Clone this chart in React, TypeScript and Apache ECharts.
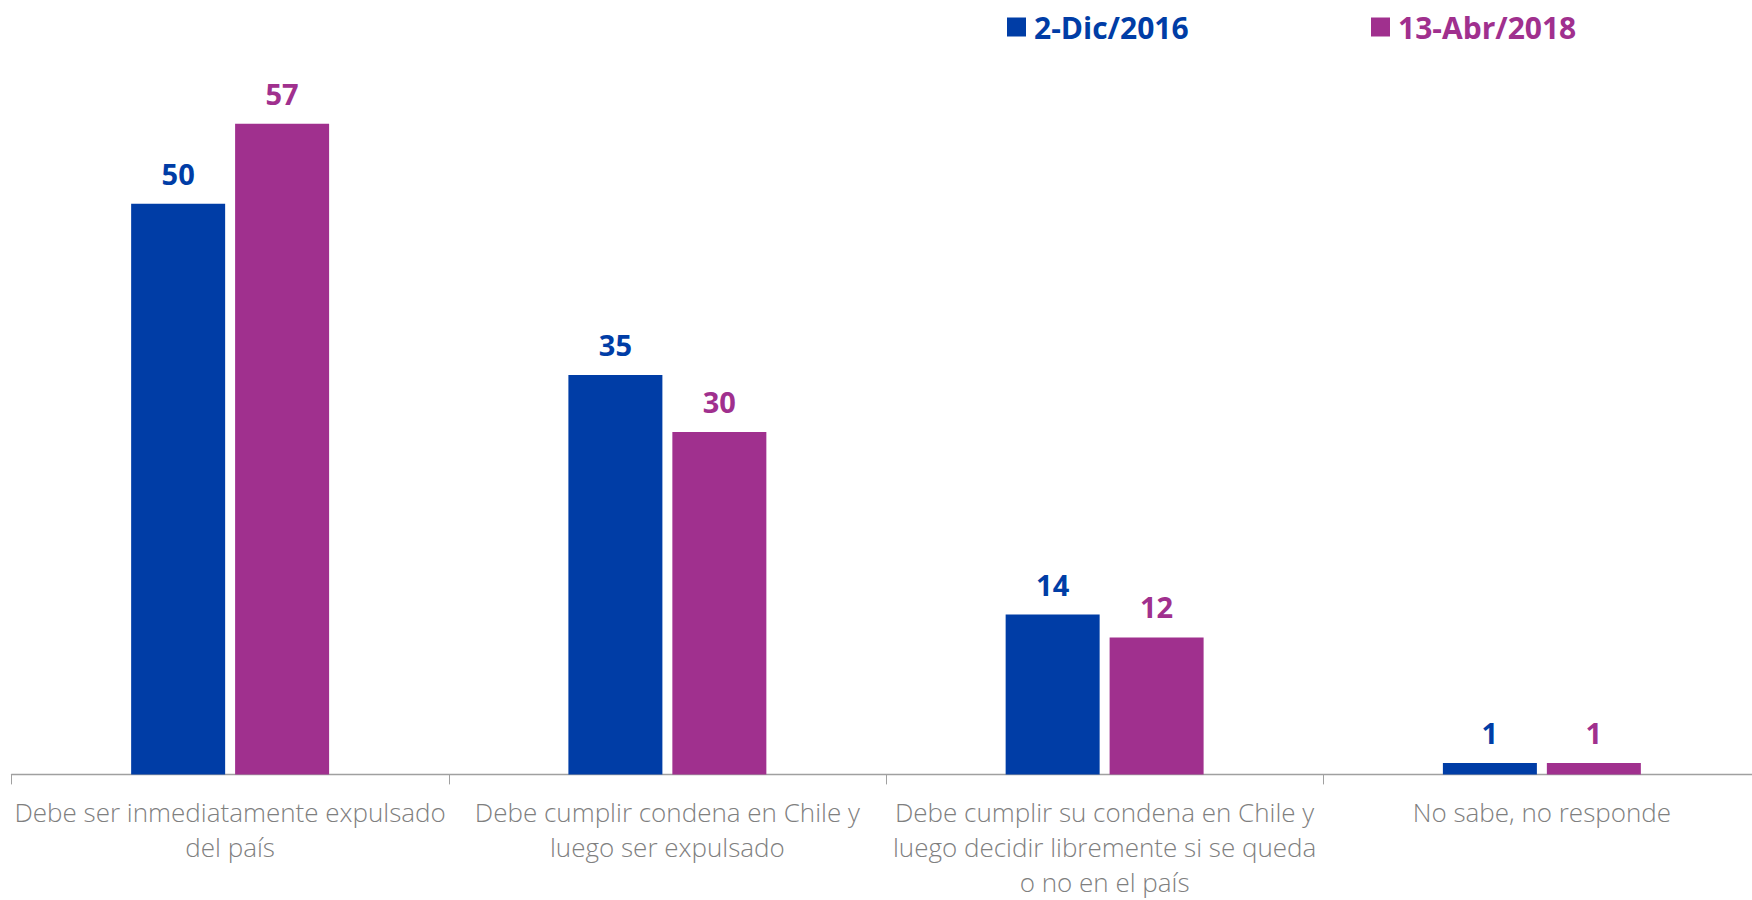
import React, { useEffect, useRef } from "react";
import * as echarts from "echarts";

const categories = [
  "Debe ser inmediatamente expulsado\ndel país",
  "Debe cumplir condena en Chile y\nluego ser expulsado",
  "Debe cumplir su condena en Chile y\nluego decidir libremente si se queda\no no en el país",
  "No sabe, no responde",
];
const seriesNames = ["2-Dic/2016", "13-Abr/2018"];
const values2016 = [50, 35, 14, 1];
const values2018 = [57, 30, 12, 1];

const BLUE = "#003DA6";
const PURPLE = "#A0308E";
const FONT = "'Open Sans', 'Noto Sans', sans-serif";

export default function App() {
  const ref = useRef<HTMLDivElement>(null);
  useEffect(() => {
    if (!ref.current) return;
    const chart = echarts.init(ref.current, undefined, { renderer: "svg" });
    const labelStyle = (color: string) => ({
      show: true,
      position: "top" as const,
      distance: 16,
      color,
      fontFamily: FONT,
      fontWeight: "bold" as const,
      fontSize: 29,
    });
    const legendText = {
      fontFamily: FONT,
      fontWeight: "bold",
      fontSize: 30,
      lineHeight: 36,
      padding: [0, 0, 0, 3],
    };
    chart.setOption({
      animation: false,
      backgroundColor: "#ffffff",
      legend: [
        {
          left: 1007,
          top: 9,
          padding: 0,
          icon: "rect",
          itemWidth: 19,
          itemHeight: 19,
          selectedMode: false,
          data: [{ name: seriesNames[0], textStyle: { color: BLUE } }],
          textStyle: legendText,
        },
        {
          left: 1371,
          top: 9,
          padding: 0,
          icon: "rect",
          itemWidth: 19,
          itemHeight: 19,
          selectedMode: false,
          data: [{ name: seriesNames[1], textStyle: { color: PURPLE } }],
          textStyle: legendText,
        },
      ],
      grid: { left: 11.5, top: 89.5, width: 1749, height: 685 },
      xAxis: {
        type: "category",
        data: categories,
        axisLine: { lineStyle: { color: "#A0A0A0", width: 1.3 } },
        axisTick: { show: true, length: 10, lineStyle: { color: "#A0A0A0" } },
        axisLabel: {
          interval: 0,
          margin: 20,
          color: "#7F7F7F",
          fontFamily: FONT,
          fontWeight: 300,
          fontSize: 26,
          lineHeight: 35.2,
        },
      },
      yAxis: {
        type: "value",
        min: 0,
        max: 60,
        show: false,
        splitLine: { show: false },
      },
      series: [
        {
          name: seriesNames[0],
          type: "bar",
          data: values2016,
          barWidth: 94,
          barGap: "10.6%",
          itemStyle: { color: BLUE },
          label: labelStyle(BLUE),
        },
        {
          name: seriesNames[1],
          type: "bar",
          data: values2018,
          barWidth: 94,
          barGap: "10.6%",
          itemStyle: { color: PURPLE },
          label: labelStyle(PURPLE),
        },
      ],
    });
    return () => chart.dispose();
  }, []);
  return (
    <div
      style={{
        position: "fixed",
        left: 0,
        top: 0,
        width: 1752,
        height: 900,
        overflow: "hidden",
        background: "#ffffff",
      }}
    >
      <div ref={ref} style={{ width: 1790, height: 900 }} />
    </div>
  );
}
